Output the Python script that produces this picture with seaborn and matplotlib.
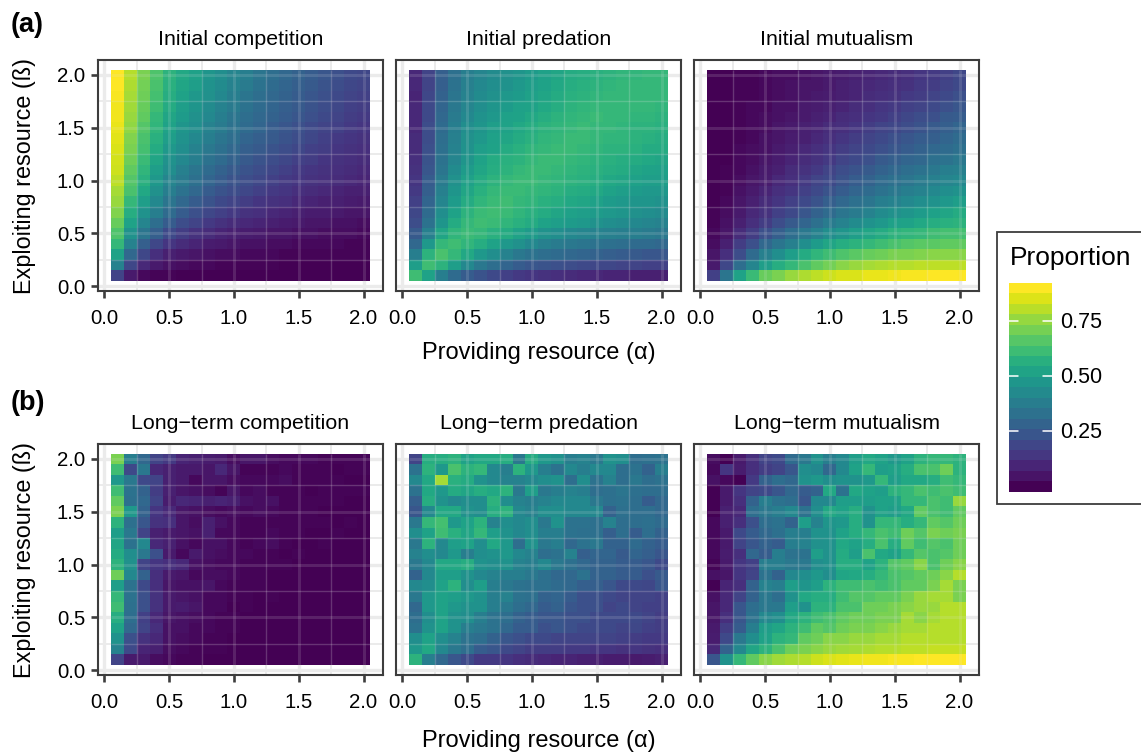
import numpy as np
import seaborn as sns
import matplotlib.pyplot as plt
from matplotlib.patches import Rectangle

# proportions in percent, rows run from beta=2.0 (top) to beta=0.1, columns alpha=0.1..2.0
init_comp = [
    [90,80,72,65,58,54,51,47,44,41,38,35,32,30,28,26,24,22,20,19],
    [90,79,71,64,57,53,50,46,43,40,37,34,31,29,27,25,23,21,19,18],
    [89,78,70,63,56,52,48,45,42,38,35,32,30,28,26,24,22,20,18,17],
    [88,77,69,62,55,50,47,43,40,37,34,31,29,27,25,23,21,19,17,16],
    [88,76,68,60,53,49,45,42,38,35,32,30,28,26,24,22,20,18,16,15],
    [87,75,66,59,52,47,44,40,37,34,31,29,26,24,22,20,18,17,15,14],
    [86,73,64,57,50,46,42,38,35,32,29,27,25,23,21,19,17,15,14,13],
    [85,72,63,55,48,44,40,36,33,30,27,25,23,21,19,17,16,14,13,12],
    [84,70,61,53,46,42,38,34,31,28,25,23,21,19,17,16,14,13,12,11],
    [83,68,59,50,44,39,35,31,28,25,23,21,19,17,15,14,13,12,11,10],
    [81,66,57,48,41,37,33,29,26,23,21,19,17,15,14,13,12,11,10,9],
    [78,64,54,45,38,34,30,26,23,21,19,17,15,14,12,11,10,9,8,8],
    [76,60,50,42,35,30,26,23,20,18,16,14,13,12,10,9,8,8,7,6],
    [73,56,46,38,31,26,22,19,17,15,13,12,10,9,8,7,7,6,5,5],
    [69,52,41,32,26,21,18,15,13,11,10,9,8,7,6,5,5,4,4,3],
    [65,46,35,27,20,16,13,11,9,8,7,6,5,5,4,4,3,3,3,2],
    [60,40,27,19,14,11,9,7,6,5,4,4,3,3,2,2,2,2,1,1],
    [52,30,19,12,8,6,5,4,3,3,2,2,2,1,1,1,1,1,1,1],
    [40,19,10,6,4,3,2,2,1,1,1,1,1,0,0,0,0,0,0,0],
    [18,6,2,1,1,0,0,0,0,0,0,0,0,0,0,0,0,0,0,0],
]
init_pred = [
    [10,18,27,33,38,41,43,45,47,49,51,53,55,56,57,58,59,59,60,60],
    [10,18,27,34,39,42,44,46,48,50,52,54,56,57,58,59,60,60,60,60],
    [9,19,28,35,40,43,45,48,49,51,53,55,57,58,59,60,60,60,60,60],
    [10,20,29,36,41,44,47,49,51,52,54,56,58,59,60,60,60,60,60,59],
    [10,20,30,37,42,46,48,51,52,54,56,58,59,60,61,60,60,59,59,58],
    [10,21,31,38,44,47,50,52,54,56,58,59,60,61,60,60,59,58,58,57],
    [11,21,32,39,45,48,51,53,55,57,59,60,61,61,60,59,59,58,57,56],
    [11,22,33,40,46,50,52,55,57,59,60,61,61,60,59,58,58,57,55,55],
    [12,23,34,41,47,52,55,57,58,60,61,61,60,59,58,57,56,55,54,53],
    [13,24,35,43,49,53,56,58,60,61,61,60,59,58,57,56,55,53,52,51],
    [14,26,37,45,51,55,58,60,61,61,60,59,58,57,56,54,53,51,50,50],
    [15,27,39,47,53,57,60,61,61,60,59,58,56,55,54,52,50,49,48,48],
    [17,29,41,49,55,59,61,62,60,59,57,56,54,53,51,49,48,47,47,46],
    [19,31,44,52,58,61,62,61,59,57,55,53,51,50,49,48,47,45,44,43],
    [21,34,47,55,60,62,61,59,57,55,52,50,49,48,46,44,43,42,41,40],
    [25,39,53,59,61,60,57,55,52,49,46,44,42,41,40,39,38,38,37,36],
    [30,48,60,62,59,56,52,48,45,42,39,37,36,35,34,33,32,31,31,30],
    [38,58,64,60,54,48,44,40,36,34,32,31,30,29,28,27,26,25,24,24],
    [50,62,58,50,42,36,32,29,26,24,23,22,21,20,19,19,18,18,17,17],
    [62,52,38,31,26,23,20,17,15,14,13,12,11,10,10,9,9,8,8,8],
]
init_mut = [
    [0,0,1,1,2,3,3,4,5,6,7,8,9,10,11,12,14,15,17,19],
    [0,0,1,1,2,3,4,5,5,6,8,9,10,11,12,13,15,16,18,20],
    [0,0,1,1,2,3,4,5,6,7,8,9,11,12,13,15,16,18,20,22],
    [0,0,1,2,2,4,4,6,7,8,9,11,12,14,15,17,18,20,22,24],
    [0,0,1,2,3,4,5,6,8,9,11,12,14,15,17,19,21,22,25,26],
    [0,0,1,2,3,5,6,8,9,11,12,14,16,18,19,21,23,25,27,29],
    [0,0,1,2,4,5,7,8,10,12,14,16,18,20,22,24,26,27,29,31],
    [0,0,2,3,4,6,8,10,12,14,16,18,20,22,24,26,28,30,31,33],
    [0,0,2,3,5,7,9,11,13,15,18,20,22,25,27,29,30,33,34,36],
    [0,1,2,4,6,8,11,13,15,18,21,23,25,28,30,32,34,36,38,39],
    [0,1,3,5,7,10,12,15,18,20,23,26,28,31,33,35,37,39,41,42],
    [0,1,4,6,9,12,14,17,20,23,26,29,31,34,36,38,40,42,44,46],
    [0,2,5,8,11,14,17,20,23,27,30,33,35,38,40,42,44,46,48,50],
    [1,3,6,10,13,17,20,24,28,31,35,37,40,43,45,47,49,51,53,55],
    [1,4,8,12,16,21,25,29,33,37,40,43,46,48,51,52,54,56,57,58],
    [2,5,11,16,22,27,32,36,40,44,47,50,53,55,58,59,60,62,63,63],
    [3,8,16,22,30,35,39,44,49,53,56,58,60,62,64,66,67,67,68,68],
    [5,12,21,31,39,44,50,55,59,62,65,67,69,70,72,72,73,74,74,74],
    [6,19,32,41,50,56,60,64,68,71,74,76,78,79,80,80,81,81,81,81],
    [17,35,52,61,69,72,76,79,81,83,85,85,87,87,88,89,89,90,90,90],
]
long_comp = [
    [72,38,30,18,15,9,8,7,6,3,5,5,3,2,2,2,1,1,1,1],
    [62,20,36,10,8,6,6,5,10,5,1,1,1,2,1,1,1,0,1,1],
    [48,36,20,18,8,6,2,5,5,3,2,2,2,3,1,1,1,1,0,0],
    [62,34,28,16,8,5,4,3,1,5,2,3,1,1,1,0,1,1,1,1],
    [68,33,30,18,7,10,9,8,9,8,4,3,4,1,1,1,1,1,0,0],
    [72,48,28,14,10,5,4,3,2,3,2,3,2,1,1,1,0,0,0,0],
    [58,33,24,13,12,5,3,8,4,2,1,1,1,1,1,1,1,0,1,0],
    [50,36,18,8,6,5,4,8,2,2,1,1,2,1,1,0,0,1,0,0],
    [53,34,42,10,8,4,2,4,4,2,1,2,3,1,0,0,1,0,0,0],
    [55,44,36,22,6,2,6,4,3,2,2,1,1,0,1,0,0,0,0,0],
    [58,45,18,14,12,10,4,3,2,2,1,1,1,1,0,0,0,0,0,0],
    [70,42,28,12,6,5,2,3,3,2,1,1,0,0,0,0,0,0,0,0],
    [50,34,20,12,5,4,4,5,2,1,1,1,0,0,0,0,0,0,0,0],
    [60,34,22,13,6,5,4,2,2,1,1,0,1,0,0,0,0,0,0,0],
    [62,33,22,13,6,7,5,2,2,0,1,0,0,0,0,0,0,0,0,0],
    [56,32,17,10,5,4,3,2,1,1,0,0,0,0,0,0,0,0,0,0],
    [52,30,18,12,4,4,2,2,1,1,0,0,0,0,0,0,0,0,0,0],
    [46,22,13,10,4,3,2,1,1,0,0,0,0,0,0,0,0,0,0,0],
    [40,20,9,8,3,2,1,1,1,0,0,0,0,0,0,0,0,0,0,0],
    [18,6,6,3,2,1,1,0,0,0,0,0,0,0,0,0,0,0,0,0],
]
long_pred = [
    [18,56,56,58,52,54,54,56,36,55,48,46,38,40,36,46,44,32,33,34],
    [34,58,48,64,58,60,42,38,58,48,38,34,42,38,42,42,32,34,28,38],
    [42,54,78,57,55,46,42,40,40,42,44,46,32,44,34,40,32,36,32,34],
    [34,54,48,55,53,56,54,58,36,50,36,38,40,38,32,33,35,33,32,32],
    [27,56,46,42,44,44,58,44,40,38,40,42,42,42,36,33,34,32,26,30],
    [24,42,54,54,46,44,56,58,42,40,44,44,42,42,42,28,33,32,32,30],
    [36,60,63,48,52,58,40,44,42,44,36,46,34,34,33,40,32,32,33,31],
    [44,52,62,57,53,60,50,46,42,44,38,38,34,33,33,27,32,26,32,28],
    [36,58,42,50,52,44,54,48,32,46,36,38,30,34,36,28,28,31,28,26],
    [40,44,42,48,38,44,46,48,42,40,32,34,40,27,29,29,25,29,27,24],
    [36,42,54,54,56,46,44,46,40,38,42,36,33,30,28,28,26,26,24,20],
    [28,42,50,50,46,42,40,38,38,36,33,30,30,34,28,28,26,26,22,25],
    [42,44,52,58,44,50,38,36,34,33,33,31,30,27,27,24,20,20,19,24],
    [36,48,52,50,48,46,38,40,34,33,28,29,26,22,22,20,18,18,18,17],
    [30,48,52,48,46,46,38,36,32,30,26,28,24,22,22,18,20,18,17,17],
    [32,44,52,46,44,38,34,32,28,26,24,24,22,22,20,20,20,20,18,16],
    [34,46,52,46,38,36,34,30,26,26,22,24,22,20,20,20,18,19,17,16],
    [44,52,44,40,34,32,28,24,22,20,20,18,18,18,18,18,17,16,15,15],
    [48,54,42,36,32,26,24,20,18,16,16,16,15,15,14,14,13,14,13,12],
    [58,38,30,24,20,15,15,14,12,11,10,9,9,8,8,7,7,6,7,8],
]
long_mut = [
    [3,0,6,12,18,20,31,36,46,38,42,50,54,52,48,52,58,60,60,58],
    [2,14,7,12,16,18,24,44,42,30,42,52,60,50,52,56,64,64,70,58],
    [4,2,0,15,28,32,30,46,48,44,46,46,48,60,50,54,54,56,62,60],
    [0,6,14,18,20,24,30,26,28,54,34,54,52,50,58,60,64,62,64,62],
    [0,6,12,28,38,34,32,24,42,42,50,50,50,52,52,60,60,64,62,76],
    [0,8,10,32,36,38,42,34,44,54,52,56,46,52,50,54,68,64,62,68],
    [2,8,12,22,32,34,28,50,40,47,48,56,46,60,60,56,60,68,66,70],
    [2,6,20,26,30,33,38,38,46,46,52,56,60,64,62,70,66,72,70,72],
    [2,6,18,24,28,26,38,40,45,46,54,52,56,64,56,68,62,66,64,70],
    [2,7,12,30,26,38,34,34,50,46,55,50,64,54,52,60,66,64,66,70],
    [1,6,14,17,38,38,36,36,44,46,56,56,52,58,66,68,74,64,70,74],
    [4,5,14,18,34,28,42,44,48,44,53,54,56,60,64,66,68,70,74,80],
    [0,9,12,28,40,38,50,47,50,58,62,62,64,62,64,68,68,72,78,72],
    [4,10,18,28,36,32,46,54,56,56,62,66,66,68,68,72,76,78,78,72],
    [5,10,24,32,36,36,50,46,58,58,64,64,70,70,72,74,76,76,80,80],
    [5,12,24,34,42,44,54,58,62,64,68,70,70,72,72,78,74,78,80,80],
    [6,16,26,38,50,53,58,62,68,66,70,72,72,74,76,78,78,80,80,80],
    [7,20,36,44,52,58,60,68,70,74,74,76,76,78,78,80,80,80,80,80],
    [10,28,42,53,58,64,70,72,74,76,77,78,79,80,80,81,81,82,82,82],
    [24,46,60,68,74,77,79,80,83,85,86,87,88,88,89,89,90,90,90,90],
]

titles_a = ["Initial competition", "Initial predation", "Initial mutualism"]
titles_b = ["Long\u2212term competition", "Long\u2212term predation", "Long\u2212term mutualism"]
tick_vals = [0.0, 0.5, 1.0, 1.5, 2.0]
tick_labels = ["0.0", "0.5", "1.0", "1.5", "2.0"]
legend_ticks = [0.25, 0.50, 0.75]
legend_labels = ["0.25", "0.50", "0.75"]

W, H = 1141, 754
VMAX = 0.90
DARK = "#3d3d3d"

sns.set_theme(style="white")
plt.rcParams['font.family'] = ['Liberation Sans', 'DejaVu Sans']

fig = plt.figure(figsize=(W / 100, H / 100), dpi=100)


def px_axes(x0, y0, x1, y1):
    # pixel box (top-left origin) to figure axes
    return fig.add_axes([x0 / W, 1 - y1 / H, (x1 - x0) / W, (y1 - y0) / H])


# heatmap cells sit at 0..20, these turn alpha / beta into cell units
def xcell(a):
    return (a - 0.05) / 0.1


def ycell(b):
    return (2.05 - b) / 0.1


def draw_panel(box, values, title, left):
    ax = px_axes(*box)
    sns.heatmap(np.array(values) / 100, ax=ax, cmap="viridis", vmin=0, vmax=VMAX,
                cbar=False, xticklabels=False, yticklabels=False)
    ax.set_xlim(xcell(-0.049), xcell(2.15))
    ax.set_ylim(ycell(-0.045), ycell(2.14))

    # panel grid: wide major lines, thinner minor ones, see-through over the tiles
    major = [0.5 * i for i in range(5)]
    minor = [0.25 + 0.5 * i for i in range(4)]
    for vals, lw in [(major, 2.4), (minor, 1.4)]:
        ax.vlines([xcell(v) for v in vals], *ax.get_ylim(), color="#ebebeb", lw=lw, zorder=0.5)
        ax.hlines([ycell(v) for v in vals], *ax.get_xlim(), color="#ebebeb", lw=lw, zorder=0.5)
    for vals, lw, a in [(major[1:], 2.2, 0.14), (minor, 1.0, 0.22)]:
        ax.vlines([xcell(v) for v in vals], ycell(0.05), ycell(2.05), color="#e6e6e6", lw=lw, alpha=a, zorder=3)
        ax.hlines([ycell(v) for v in vals], xcell(0.05), xcell(2.05), color="#e6e6e6", lw=lw, alpha=a, zorder=3)

    ax.set_xticks([xcell(v) for v in tick_vals])
    ax.set_xticklabels(tick_labels, rotation=0)
    ax.tick_params(axis="x", bottom=True, length=4.7, width=1.9, color=DARK, labelsize=14.7, pad=8.2, labelcolor="black")
    if left:
        ax.set_yticks([ycell(v) for v in tick_vals])
        ax.set_yticklabels(tick_labels, rotation=0)
        ax.tick_params(axis="y", left=True, length=4.7, width=1.9, color=DARK, labelsize=14.7, pad=4.6, labelcolor="black")
        mid_y = (box[1] + box[3]) / 2 + 0.5
        fig.text(25 / W, 1 - mid_y / H, "Exploiting resource (\u00df)", fontsize=16.8, rotation=90,
                 ha="center", va="center", color="black")
    else:
        ax.set_yticks([])
    for s in ax.spines.values():
        s.set_visible(True)
        s.set_color(DARK)
        s.set_linewidth(1.5)
    ax.set_title(title, fontsize=15.4, color="black", pad=10.5)
    return ax


col_x = [(98, 383), (396, 681), (694, 979)]
rows = [(60, 291), (444, 675)]
panels = [[init_comp, init_pred, init_mut], [long_comp, long_pred, long_mut]]
row_titles = [titles_a, titles_b]

for r, (y0, y1) in enumerate(rows):
    for c, (x0, x1) in enumerate(col_x):
        draw_panel((x0, y0, x1, y1), panels[r][c], row_titles[r][c], c == 0)

fig.text(539 / W, 1 - 353 / H, "Providing resource (\u03b1)", fontsize=17, ha="center", va="center", color="black")
fig.text(539 / W, 1 - 741 / H, "Providing resource (\u03b1)", fontsize=17, ha="center", va="center", color="black")
fig.text(11 / W, 1 - 25 / H, "(a)", fontsize=19.5, fontweight="bold", ha="left", va="center", color="black")
fig.text(11 / W, 1 - 403 / H, "(b)", fontsize=19.5, fontweight="bold", ha="left", va="center", color="black")

# legend box runs off the right edge
fig.add_artist(Rectangle((996.5 / W, 1 - 503.5 / H), 150 / W, 271.5 / H, transform=fig.transFigure,
                         facecolor="white", edgecolor=DARK, lw=1.3, zorder=-1))
fig.text(1010 / W, 1 - 258 / H, "Proportion", fontsize=19, ha="left", va="center", color="black")

cax = px_axes(1009, 283, 1052, 491.7)
bin_levels = np.linspace(VMAX, 0, 20).reshape(-1, 1)
sns.heatmap(bin_levels, ax=cax, cmap="viridis", vmin=0, vmax=VMAX, cbar=False, xticklabels=False, yticklabels=False)
cax.set_xlim(0, 1)
step = VMAX / 19


def ybin(v):
    return (VMAX + step / 2 - v) / step


cax.set_ylim(20, 0)
for v, lab in zip(legend_ticks, legend_labels):
    cax.plot([0, 0.2], [ybin(v)] * 2, color="white", lw=1.1)
    cax.plot([0.8, 1], [ybin(v)] * 2, color="white", lw=1.1)
    cax.text(1.2, ybin(v) + 0.15, lab, fontsize=15.5, va="center", ha="left", color="black")
cax.set_xticks([])
cax.set_yticks([])

fig.savefig("out.png", dpi=100)
